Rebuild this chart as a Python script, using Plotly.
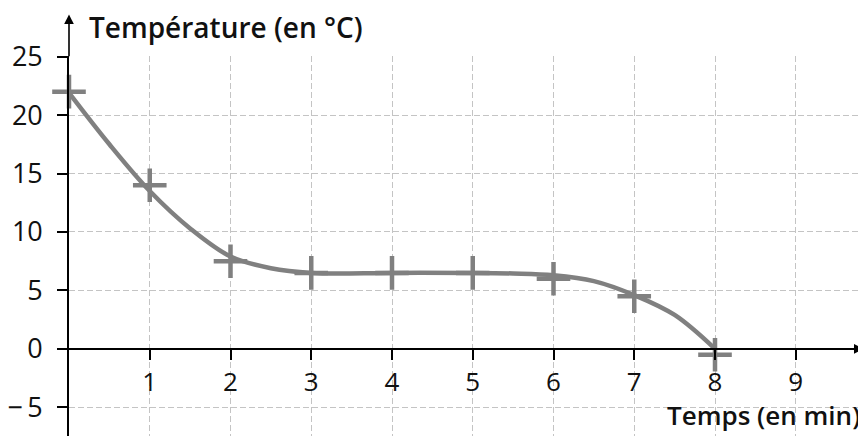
import plotly.graph_objects as go

# Measured points (crosses)
mesure_t = [0, 1, 2, 3, 4, 5, 6, 7, 8]
mesure_temp = [22, 14, 7.5, 6.5, 6.5, 6.5, 6, 4.5, -0.5]

# Smooth curve
courbe_t = [0, 0.5, 1, 1.5, 2, 2.5, 3, 4, 5, 5.5, 6, 6.5, 7, 7.5, 8]
courbe_temp = [21.9, 17.5, 13.5, 10.3, 7.9, 6.9, 6.5, 6.5, 6.5, 6.45, 6.3, 5.8, 4.6, 2.9, 0]

x_ticks = [1, 2, 3, 4, 5, 6, 7, 8, 9]
x_labels = ["1", "2", "3", "4", "5", "6", "7", "8", "9"]
y_ticks = [-5, 0, 5, 10, 15, 20, 25]
y_labels = ["\u2212\u20095", "0", "5", "10", "15", "20", "25"]

x_title = "Temps (en min)"
y_title = "Température (en °C)"

x_range = [0, 9.87]
y_range = [-7.45, 25.05]

GRAY = "#808080"
FONT = "Open Sans"
TXT = "#111111"

fig = go.Figure()
fig.add_trace(go.Scatter(
    x=courbe_t, y=courbe_temp, mode="lines",
    line=dict(color=GRAY, width=4.5, shape="spline", smoothing=1.0),
    cliponaxis=False, hoverinfo="skip", showlegend=False,
))
fig.add_trace(go.Scatter(
    x=mesure_t, y=mesure_temp, mode="markers",
    marker=dict(symbol="cross-thin-open", size=24, color=GRAY,
                line=dict(color=GRAY, width=4.5)),
    cliponaxis=False, showlegend=False,
))

x_pos = (0 - y_range[0]) / (y_range[1] - y_range[0])

fig.update_layout(
    # the page body adds an 8px margin, so the figure is 8px smaller each way
    width=858, height=428,
    margin=dict(l=61, r=0, t=48, b=0, autoexpand=False),
    paper_bgcolor="white", plot_bgcolor="white",
    font=dict(family=FONT, size=27, color=TXT),
    xaxis=dict(
        range=x_range, anchor="free", position=x_pos, automargin=False,
        tickvals=x_ticks, ticktext=x_labels,
        showline=True, linecolor="black", linewidth=1.6,
        ticks="outside", ticklen=10, tickwidth=1.6, tickcolor="black",
        ticklabelstandoff=0,
        showgrid=True, gridcolor="#c4c4c4", gridwidth=1.2, griddash="6px,3px",
        zeroline=False, tickfont=dict(family=FONT, size=26, color=TXT),
    ),
    yaxis=dict(
        range=y_range, automargin=False,
        tickvals=y_ticks, ticktext=y_labels,
        showline=True, linecolor="black", linewidth=1.6,
        ticks="outside", ticklen=10, tickwidth=1.6, tickcolor="black",
        ticklabelstandoff=9,
        showgrid=True, gridcolor="#c4c4c4", gridwidth=1.2, griddash="6px,3px",
        zeroline=False, tickfont=dict(family=FONT, size=27, color=TXT),
    ),
    annotations=[
        # y-axis arrow
        dict(x=0, y=28.6, ax=0, ay=24.9, xref="x", yref="y", axref="x", ayref="y",
             text="", showarrow=True, arrowhead=2, arrowsize=1.2, arrowwidth=1.6,
             arrowcolor="black"),
        # x-axis arrow
        dict(x=9.84, y=0, ax=9.5, ay=0, xref="x", yref="y", axref="x", ayref="y",
             text="", showarrow=True, arrowhead=2, arrowsize=1.2, arrowwidth=1.6,
             arrowcolor="black"),
        dict(text=y_title, x=0, y=1, xref="paper", yref="paper",
             xanchor="left", yanchor="middle", xshift=18, yshift=29, showarrow=False,
             font=dict(family=FONT, size=28, weight=600, color=TXT)),
        dict(text=x_title, x=1, y=0, xref="paper", yref="paper",
             xanchor="right", yanchor="middle", xshift=-4, yshift=21, showarrow=False,
             font=dict(family=FONT, size=26, weight=600, color=TXT)),
    ],
)

fig.write_html("out.html")
